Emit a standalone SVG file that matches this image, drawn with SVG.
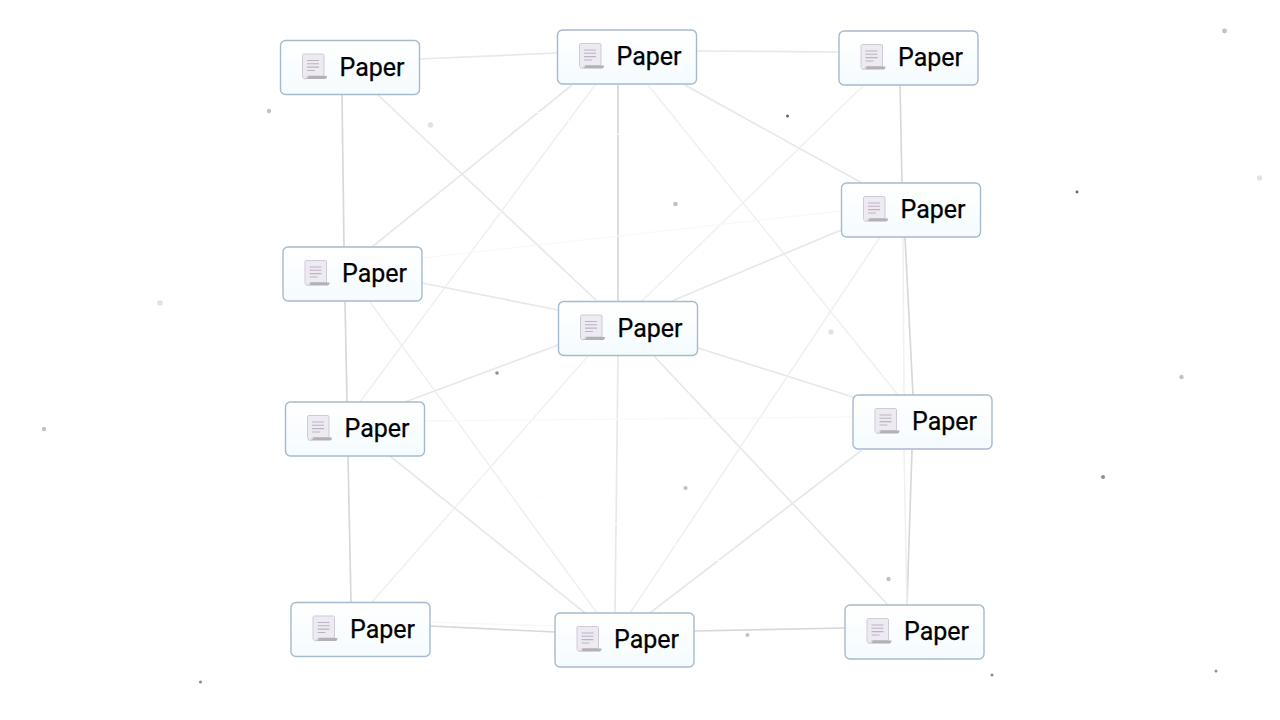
<svg xmlns="http://www.w3.org/2000/svg" width="1280" height="720" viewBox="0 0 1280 720">
<style>
.e{fill:none;stroke:#e8e8eb;stroke-width:1.7}
.s{stroke:#d7d8db}
.m{stroke:#f0f0f2;stroke-width:1.5}
.f{stroke:#f8f8f9;stroke-width:1.3}
.v{stroke:#fdfdfd;stroke-width:1.2}
.b{fill:url(#g);stroke:#a6bace;stroke-width:1.4}
.t{font-family:Roboto,"Liberation Sans",sans-serif;font-size:25px;fill:#000;font-weight:400;stroke:#000;stroke-width:.25}
.d1{fill:#c2c2c4}.d2{fill:#8f8f92}.d3{fill:#e2e2e4}.d4{fill:#66666a}
</style>
<defs>
<linearGradient id="g" x1="0" y1="0" x2="0" y2="1"><stop offset="0" stop-color="#ffffff"/><stop offset="1" stop-color="#f4fbfe"/></linearGradient>
<g id="paper">
<rect x="0" y="0" width="139" height="54" rx="5" class="b"/>
<path d="M22 15c0-1 .6-1.500 1.500-1.500h18.500c1 0 1.500.5 1.500 1.500v20.500h-15.500c-1.500 0-2.500 1.200-3 3-2 0-3-1.500-3-3z" fill="#eeeaf1" stroke="#cfcad6" stroke-width="1"/>
<path d="M28 35.500h18.500c0 2-.8 3-2 3h-19.500c1.300-.5 2-1.500 3-3z" fill="#b3b0b8"/>
<path d="M26.500 20h12M26.500 23.300h12M26.500 26.600h12M26.500 30h8" stroke="#b9b4c3" stroke-width="1.100" fill="none"/>
<text x="59" y="35.300" class="t">Paper</text>
</g>
</defs>
<rect width="1280" height="720" fill="#fff"/>
<g id="particles">
<circle cx="269" cy="111" r="2.200" class="d1"/><circle cx="430.500" cy="125" r="2.700" class="d3"/><circle cx="787.500" cy="116" r="1.500" class="d4"/><circle cx="675.500" cy="204" r="2.300" class="d1"/><circle cx="1077" cy="192" r="1.400" class="d4"/><circle cx="1224.500" cy="31" r="2.400" class="d1"/><circle cx="1259.500" cy="178" r="2.700" class="d3"/><circle cx="160" cy="303" r="2.800" class="d3"/><circle cx="497" cy="373" r="1.800" class="d2"/><circle cx="831" cy="332" r="2.600" class="d3"/><circle cx="1181.500" cy="377" r="2.200" class="d1"/><circle cx="44" cy="429" r="2.200" class="d1"/><circle cx="1103" cy="477" r="2" class="d2"/><circle cx="685.500" cy="488" r="2.100" class="d1"/><circle cx="888.500" cy="579" r="2.200" class="d1"/><circle cx="747.500" cy="635" r="2" class="d1"/><circle cx="200.500" cy="682" r="1.600" class="d2"/><circle cx="992" cy="675" r="1.600" class="d2"/><circle cx="1216" cy="671" r="1.500" class="d2"/>
</g>
<g id="connectors">
<path class="e" d="M420 59L557 53"/>
<path class="e" d="M697 51L839 52"/>
<path class="e s" d="M342 95L344 247"/>
<path class="e s" d="M345 302L347 402"/>
<path class="e s" d="M348 456L351 602"/>
<path class="e" d="M378 95L597 301"/>
<path class="e" d="M572 85L372 247"/>
<path class="e m" d="M595 85L360 402"/>
<path class="e s" d="M618 85L618 301"/>
<path class="e m" d="M648 85L898 395"/>
<path class="e" d="M685 85L862 183"/>
<path class="e m" d="M864 85L642 301"/>
<path class="e s" d="M900 85L902 183"/>
<path class="e s" d="M905 237L913 395"/>
<path class="e m" d="M903 237L904 395"/>
<path class="e f" d="M422 258L841 211"/>
<path class="e" d="M841 230L672 301"/>
<path class="e" d="M422 283L558 310"/>
<path class="e m" d="M370 302L597 613"/>
<path class="e" d="M405 402L558 345"/>
<path class="e" d="M390 456L585 613"/>
<path class="e" d="M698 348L853 397"/>
<path class="e m" d="M588 356L372 602"/>
<path class="e" d="M618 356L615 613"/>
<path class="e" d="M654 356L888 605"/>
<path class="e m" d="M880 237L630 613"/>
<path class="e" d="M862 450L650 613"/>
<path class="e f" d="M425 421L853 417"/>
<path class="e s" d="M430 626L555 632"/>
<path class="e s" d="M694 631L845 628"/>
<path class="e s" d="M912 450L907 605"/>
<path class="e m" d="M904 450L907 605"/>
<path class="e f" d="M430 622L555 626"/>
<path class="e v" d="M420 80L841 195"/>
<path class="e v" d="M425 457L845 605"/>
</g>
<use id="node-1" href="#paper" x="280.500" y="40.500"/>
<use id="node-2" href="#paper" x="557.500" y="30"/>
<use id="node-3" href="#paper" x="839" y="31"/>
<use id="node-4" href="#paper" x="841.500" y="183"/>
<use id="node-5" href="#paper" x="283" y="247"/>
<use id="node-6" href="#paper" x="558.500" y="301.500"/>
<use id="node-7" href="#paper" x="285.500" y="402"/>
<use id="node-8" href="#paper" x="853" y="395"/>
<use id="node-9" href="#paper" x="291" y="602.500"/>
<use id="node-10" href="#paper" x="555" y="613"/>
<use id="node-11" href="#paper" x="845" y="605"/>
</svg>
